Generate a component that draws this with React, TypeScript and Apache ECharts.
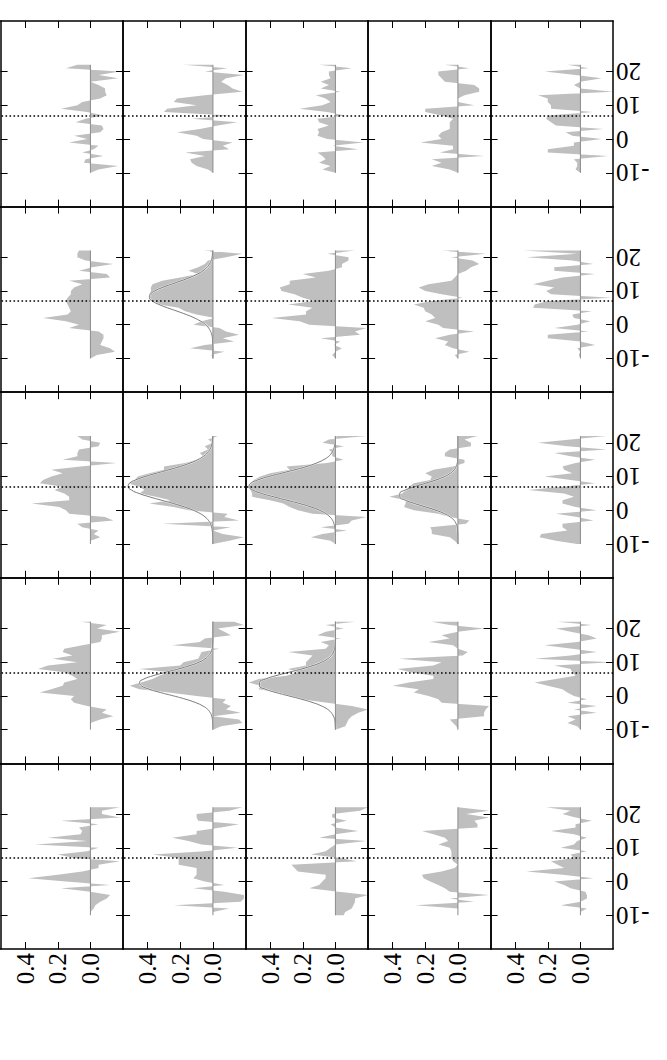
import React, { useEffect, useRef } from "react";
import * as echarts from "echarts";

// Position along the strip (vertical axis), one sample per unit
const positions = [-10, -9, -8, -7, -6, -5, -4, -3, -2, -1, 0, 1, 2, 3, 4, 5, 6, 7, 8, 9, 10, 11, 12, 13, 14, 15, 16, 17, 18, 19, 20, 21, 22];
const posMin = -20;
const posMax = 35;
const posTicks = [-10, 0, 10, 20];
const valueTicks = [0.0, 0.2, 0.4];
const valueMin = -0.2;
const valueMax = 0.55;
const dottedAt = 7;

// Panel values (row r, column c), listed from position -10 up to 22
const r1c1 = [0, -0.05, -0.17, 0.04, 0.03, -0.08, 0.05, -0.02, -0.05, 0.13, 0.02, 0.1, -0.06, -0.08, -0.07, 0.09, 0.03, -0.08, 0.02, 0.18, 0.08, 0.05, -0.06, -0.1, -0.09, -0.09, -0.05, 0, -0.17, -0.05, -0.18, 0.15, 0.08];
const r1c2 = [0, 0.03, 0.1, 0.13, 0.14, 0.05, 0.17, -0.1, -0.06, -0.12, 0.06, 0.1, 0.22, 0.08, -0.03, -0.15, 0.13, -0.11, 0.3, 0.28, 0.1, 0.24, 0.22, 0.05, -0.18, -0.12, -0.09, -0.05, -0.08, -0.19, 0.05, -0.09, 0.18];
const r1c3 = [0, 0.08, 0.03, 0.1, 0.06, 0.08, 0.11, -0.14, 0.02, -0.17, 0.05, 0.11, 0.1, 0.11, 0.04, 0.1, 0.11, -0.06, 0.05, 0.22, 0.08, 0.03, 0.06, 0.12, -0.03, 0.09, 0.04, 0.09, 0.03, 0.04, 0.04, -0.1, 0.1];
const r1c4 = [0, 0.05, 0.16, 0.1, 0.16, -0.16, 0.11, 0.03, 0.03, 0.23, 0.1, 0.12, 0.1, 0.05, 0.05, 0.05, 0.03, 0.1, 0.2, 0.2, -0.1, 0, 0, -0.04, -0.13, -0.13, -0.1, 0.08, 0.1, 0.12, 0.12, -0.07, 0.08];
const r1c5 = [0, 0.03, 0.02, 0.02, 0.04, -0.17, 0.2, 0.2, 0.04, 0.04, -0.13, 0.05, 0.09, -0.14, 0.15, 0.18, 0.21, 0.2, -0.08, 0.18, 0.18, 0.2, 0.2, 0.26, -0.2, 0, 0.04, 0, -0.13, 0.03, 0.22, -0.05, 0.08];

const r2c1 = [0, -0.04, -0.15, -0.12, -0.06, -0.07, -0.08, -0.08, -0.05, 0.13, 0.07, 0.15, 0.29, 0.14, 0.12, 0.13, 0.14, 0.15, 0.14, 0.12, 0.12, 0.1, 0.05, 0.13, -0.12, -0.1, 0.07, -0.01, -0.14, 0.03, 0.08, 0.08, 0.07];
const r2c2 = [0, 0.01, -0.07, 0.14, 0.05, -0.13, -0.06, -0.16, -0.08, -0.04, 0.12, 0.07, -0.01, 0.1, 0.17, 0.21, 0.33, 0.38, 0.39, 0.39, 0.38, 0.38, 0.37, 0.31, 0.2, 0.09, 0.15, 0.09, 0.05, 0.03, -0.08, -0.18, 0.06];
const r2c3 = [0, 0.02, 0, -0.04, 0.01, -0.03, 0.09, -0.15, -0.12, -0.19, 0.16, 0.22, 0.39, 0.18, 0.18, 0.14, 0.29, 0.13, 0.2, 0.25, 0.33, 0.34, 0.28, 0.28, 0.12, 0.2, 0.04, -0.04, -0.04, -0.08, -0.08, 0.05, -0.12];
const r2c4 = [0, 0.02, -0.07, 0.03, 0.08, 0.06, 0.14, 0.05, -0.1, 0.09, 0.12, 0.2, 0.14, 0.16, 0.2, 0.21, 0.27, 0.16, -0.03, 0.1, 0.2, 0.24, 0.18, 0.04, 0.02, 0, -0.05, -0.08, -0.13, -0.09, 0.04, -0.17, 0.1];
const r2c5 = [0, 0.01, 0, 0.02, -0.09, 0, 0.2, 0.2, -0.05, 0.16, 0.02, -0.06, 0.04, 0.05, -0.07, 0.29, 0.28, 0.2, -0.19, 0.18, 0.21, 0.16, 0.29, 0.2, 0.11, -0.09, 0.16, 0.16, -0.08, 0.05, 0.33, 0.02, 0.35];

const r3c1 = [0, 0, -0.06, -0.02, -0.05, 0.05, 0.08, -0.14, -0.09, 0.13, 0.15, 0.19, 0.36, 0.13, 0.13, 0.16, 0.22, 0.17, 0.31, 0.29, 0.24, 0.17, 0.24, 0.06, -0.16, 0.17, 0.08, 0.08, 0.07, -0.05, -0.06, 0.05, 0.08];
const r3c2 = [0, -0.1, -0.19, -0.06, 0, -0.11, 0.31, -0.16, -0.07, -0.09, 0.15, 0.24, 0.39, 0.26, 0.35, 0.45, 0.42, 0.45, 0.52, 0.48, 0.46, 0.39, 0.3, 0.3, 0.17, 0.1, 0.06, 0.08, 0.03, 0.05, 0, 0.03, -0.03];
const r3c3 = [0, 0.03, 0.15, 0.08, -0.07, 0.09, -0.08, -0.1, -0.19, 0.14, 0.23, 0.28, 0.32, 0.4, 0.51, 0.51, 0.52, 0.54, 0.52, 0.5, 0.46, 0.4, 0.28, 0.3, 0.05, -0.05, 0.02, 0.02, 0.04, -0.05, 0.08, 0.04, -0.19];
const r3c4 = [0, 0.02, 0.05, 0.16, 0.16, 0.17, -0.05, -0.07, 0.05, 0.12, 0.27, 0.33, 0.32, 0.32, 0.42, 0.34, 0.32, 0.3, 0.27, 0.17, 0.16, 0.2, 0.15, 0.03, -0.04, -0.04, 0.08, 0.08, 0.05, -0.08, -0.08, -0.04, -0.12];
const r3c5 = [0.02, 0.15, 0.25, 0.24, 0.08, 0.11, 0.11, -0.08, 0.02, 0.15, -0.1, 0.03, 0.11, 0.11, 0.04, 0.1, 0.32, 0.11, -0.09, 0.06, 0.22, 0.05, 0.1, 0.11, 0.03, -0.09, 0.06, 0.16, -0.16, 0.08, 0.26, 0.06, -0.16];

const r4c1 = [0, 0, 0, -0.06, -0.14, -0.07, -0.1, 0.02, 0.1, 0.12, 0.1, 0.31, 0.24, 0.17, 0.16, 0.08, 0.11, 0.16, 0.32, 0.26, 0.08, 0.23, 0.11, 0.17, 0.16, 0.05, -0.06, -0.07, -0.07, -0.18, -0.04, -0.1, 0.06];
const r4c2 = [0, -0.05, -0.18, -0.16, 0, -0.17, -0.08, -0.11, -0.06, -0.08, 0.1, 0.27, 0.45, 0.51, 0.44, 0.37, 0.33, 0.27, 0.45, 0.2, 0.18, 0.09, 0.08, 0.07, -0.04, 0.25, 0.08, 0.05, -0.11, -0.07, -0.03, -0.19, -0.13];
const r4c3 = [0, -0.06, -0.07, -0.08, -0.1, -0.14, -0.2, -0.1, 0.05, 0.21, 0.28, 0.35, 0.47, 0.46, 0.53, 0.47, 0.3, 0.23, 0.29, 0.18, 0.18, 0.16, 0.14, 0.29, 0.06, 0.04, 0.09, -0.03, 0.11, 0.06, -0.05, 0.06, -0.12];
const r4c4 = [0, 0.01, 0.03, 0.05, -0.16, -0.16, -0.17, -0.19, 0.1, 0.12, 0.18, 0.27, 0.24, 0.4, 0.3, 0.15, 0.15, 0.29, 0.37, 0.15, 0.1, 0.36, -0.03, -0.06, 0, 0.03, 0.18, 0.05, 0.1, 0, -0.16, 0.05, 0.16];
const r4c5 = [0, 0.02, 0.08, 0.03, 0.08, -0.1, 0.04, -0.1, 0.08, -0.04, 0.04, 0.08, 0.11, 0.2, 0.28, 0.15, 0.03, 0.05, 0.06, 0.16, -0.19, 0.28, 0.06, -0.1, 0.05, 0.22, 0.02, -0.1, -0.05, 0.06, 0.15, -0.07, 0.14];

const r5c1 = [0, 0, -0.02, -0.03, -0.06, -0.1, -0.12, 0, 0.18, -0.12, 0.15, 0.38, 0.2, 0.05, -0.05, -0.05, -0.18, 0.1, 0.2, 0.02, -0.05, 0.34, 0.02, 0.26, 0.06, 0.05, 0.07, -0.05, 0.18, -0.18, -0.07, -0.07, -0.18];
const r5c2 = [0, 0, -0.1, 0.24, -0.17, -0.19, -0.19, -0.07, 0.12, -0.07, 0.05, 0.12, 0.1, 0.1, 0.1, 0.21, 0.21, 0.21, 0.37, 0.05, -0.15, 0.07, 0.15, 0.25, 0.1, 0.1, -0.05, -0.16, 0.09, 0.1, 0.1, -0.1, -0.18];
const r5c3 = [-0.05, -0.06, -0.1, -0.11, -0.12, -0.12, -0.2, -0.02, 0.16, 0.1, 0.08, 0.06, 0.06, 0.23, 0.25, 0.27, -0.13, -0.03, 0.15, 0.06, 0.03, 0, -0.19, 0.1, 0, -0.14, 0, 0.03, -0.07, 0.02, 0.02, -0.15, -0.2];
const r5c4 = [0, 0, 0, 0.26, -0.1, 0.05, -0.19, 0.05, 0.08, 0.12, 0.17, 0.21, 0.22, 0.1, 0.02, 0, 0.03, 0.04, 0.04, 0.04, 0.05, 0.12, 0.06, 0.08, 0.15, 0.22, -0.12, -0.12, -0.1, -0.19, -0.05, -0.19, 0];
const r5c5 = [0, 0, -0.04, 0.12, 0, -0.04, -0.04, -0.03, 0.06, 0.1, 0.16, -0.08, 0.11, 0.33, 0.1, 0.14, 0.18, 0.04, 0.06, -0.04, 0.12, 0.04, 0.02, -0.04, 0.04, 0.18, 0.03, 0.03, -0.07, 0.03, 0.11, 0.06, 0.21];

// Fitted curves
const fit_r2c2 = [0, 0, 0, 0, 0.001, 0.002, 0.003, 0.007, 0.014, 0.026, 0.045, 0.074, 0.113, 0.162, 0.219, 0.278, 0.331, 0.37, 0.389, 0.384, 0.356, 0.311, 0.254, 0.196, 0.141, 0.096, 0.061, 0.037, 0.021, 0.011, 0.005, 0.003, 0.001];
const fit_r3c2 = [0, 0, 0.001, 0.002, 0.004, 0.008, 0.015, 0.027, 0.047, 0.077, 0.12, 0.175, 0.242, 0.316, 0.389, 0.453, 0.499, 0.519, 0.511, 0.474, 0.416, 0.345, 0.271, 0.2, 0.14, 0.093, 0.058, 0.034, 0.019, 0.01, 0.005, 0.002, 0.001];
const fit_r3c3 = [0, 0, 0, 0.001, 0.002, 0.004, 0.009, 0.017, 0.033, 0.058, 0.097, 0.15, 0.218, 0.297, 0.378, 0.452, 0.506, 0.529, 0.519, 0.476, 0.409, 0.33, 0.249, 0.175, 0.116, 0.072, 0.041, 0.023, 0.012, 0.006, 0.002, 0.001, 0];
const fit_r3c4 = [0, 0, 0, 0.001, 0.002, 0.004, 0.011, 0.023, 0.046, 0.082, 0.134, 0.198, 0.265, 0.322, 0.356, 0.356, 0.322, 0.265, 0.198, 0.134, 0.082, 0.046, 0.023, 0.011, 0.004, 0.002, 0.001, 0, 0, 0, 0, 0, 0];
const fit_r4c2 = [0, 0, 0.001, 0.003, 0.007, 0.016, 0.032, 0.061, 0.105, 0.166, 0.241, 0.321, 0.391, 0.438, 0.449, 0.423, 0.365, 0.289, 0.21, 0.14, 0.085, 0.048, 0.025, 0.012, 0.005, 0.002, 0.001, 0, 0, 0, 0, 0, 0];
const fit_r4c3 = [0, 0.001, 0.002, 0.005, 0.012, 0.025, 0.047, 0.084, 0.137, 0.206, 0.285, 0.364, 0.429, 0.465, 0.465, 0.429, 0.364, 0.285, 0.206, 0.137, 0.084, 0.047, 0.025, 0.012, 0.005, 0.002, 0.001, 0, 0, 0, 0, 0, 0];

const panels = [
  [r1c1, r1c2, r1c3, r1c4, r1c5],
  [r2c1, r2c2, r2c3, r2c4, r2c5],
  [r3c1, r3c2, r3c3, r3c4, r3c5],
  [r4c1, r4c2, r4c3, r4c4, r4c5],
  [r5c1, r5c2, r5c3, r5c4, r5c5],
];
const fits: Record<string, number[]> = {
  "1-1": fit_r2c2,
  "2-1": fit_r3c2,
  "2-2": fit_r3c3,
  "2-3": fit_r3c4,
  "3-1": fit_r4c2,
  "3-2": fit_r4c3,
};

const FONT = "'Liberation Serif', 'Times New Roman', Times, serif";
const LEFT0 = 0.6;
const TOP0 = 21;
const PW = 122.5;
const PH = 185.6;

export default function App() {
  const ref = useRef<HTMLDivElement>(null);

  useEffect(() => {
    const el = ref.current;
    if (!el) return;
    const chart = echarts.init(el, null, { renderer: "svg" });

    const categories: string[] = [];
    for (let p = posMin; p <= posMax; p++) categories.push(String(p));
    const tickFn = (_i: number, v: string) => posTicks.includes(Number(v));

    const grid: any[] = [];
    const xAxis: any[] = [];
    const yAxis: any[] = [];
    const series: any[] = [];
    const frame = { show: true, onZero: false, lineStyle: { color: "#000", width: 1.5 } };

    panels.forEach((row, r) => {
      row.forEach((vals, c) => {
        const g = grid.length;
        const isBottom = r === panels.length - 1;
        const isRight = c === row.length - 1;
        grid.push({ left: LEFT0 + c * PW, top: TOP0 + r * PH, width: PW, height: PH, show: false, containLabel: false });

        const xBase = {
          type: "value",
          gridIndex: g,
          min: valueMin,
          max: valueMax,
          interval: 0.2,
          inverse: true,
          z: 10,
          splitLine: { show: false },
          axisLine: frame,
          axisTick: { show: true, inside: true, length: 7, customValues: valueTicks, lineStyle: { color: "#000", width: 1 } },
        };
        xAxis.push({
          ...xBase,
          position: "bottom",
          axisLabel: {
            show: isBottom,
            customValues: valueTicks,
            rotate: 90,
            margin: 4,
            fontSize: 25,
            fontFamily: FONT,
            color: "#000",
            formatter: (v: number) => (v < -1e-9 ? "" : v.toFixed(1)),
          },
        });
        xAxis.push({ ...xBase, position: "top", axisLabel: { show: false } });

        const yBase = {
          type: "category",
          gridIndex: g,
          data: categories,
          boundaryGap: false,
          z: 10,
          splitLine: { show: false },
          axisLine: frame,
          axisTick: { show: true, inside: true, length: 7, interval: tickFn, lineStyle: { color: "#000", width: 1 } },
        };
        yAxis.push({ ...yBase, position: "left", axisLabel: { show: false } });
        yAxis.push({
          ...yBase,
          position: "right",
          axisLabel: {
            show: isRight,
            interval: tickFn,
            rotate: 180,
            margin: 3,
            fontSize: 25,
            fontFamily: FONT,
            color: "#000",
          },
        });

        const xi = 2 * g;
        const yi = 2 * g;
        series.push({
          type: "line",
          xAxisIndex: xi,
          yAxisIndex: yi,
          data: positions.map((p, i) => [vals[i], String(p)]),
          symbol: "none",
          showSymbol: false,
          lineStyle: { width: 0, opacity: 0 },
          areaStyle: { color: "#bfbfbf", opacity: 1 },
          silent: true,
          clip: true,
          z: 2,
        });

        const fit = fits[`${r}-${c}`];
        if (fit) {
          const fitData = positions.map((p, i) => [fit[i], String(p)]);
          series.push({
            type: "line", xAxisIndex: xi, yAxisIndex: yi, data: fitData, smooth: true,
            symbol: "none", silent: true, z: 3, lineStyle: { color: "#ffffff", width: 1.8, opacity: 0.8 },
          });
          series.push({
            type: "line", xAxisIndex: xi, yAxisIndex: yi, data: fitData, smooth: true,
            symbol: "none", silent: true, z: 4, lineStyle: { color: "#6a6a6a", width: 0.9 },
          });
        }

        series.push({
          type: "line",
          xAxisIndex: xi,
          yAxisIndex: yi,
          data: [
            [0, String(positions[0])],
            [0, String(positions[positions.length - 1])],
          ],
          symbol: "none",
          silent: true,
          z: 5,
          lineStyle: { color: "#8c8c8c", width: 1 },
          markLine: {
            silent: true,
            symbol: ["none", "none"],
            label: { show: false },
            lineStyle: { color: "#000", width: 1.6, type: [1.6, 2.4] },
            data: [{ yAxis: String(dottedAt) }],
          },
        });
      });
    });

    chart.setOption({
      animation: false,
      backgroundColor: "#ffffff",
      grid,
      xAxis,
      yAxis,
      series,
    });

    return () => chart.dispose();
  }, []);

  return <div ref={ref} style={{ position: "absolute", left: 0, top: 0, width: 667, height: 1060 }} />;
}
